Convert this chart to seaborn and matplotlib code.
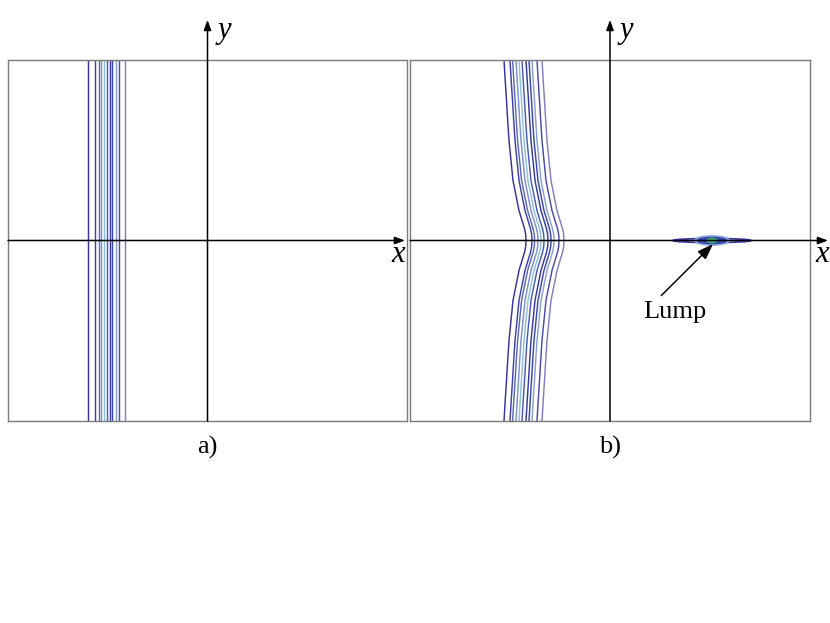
import numpy as np
import pandas as pd
import matplotlib
matplotlib.use("Agg")
import matplotlib.pyplot as plt
import matplotlib.transforms as mtransforms
from matplotlib.patches import Ellipse
import seaborn as sns

sns.set_style("white")
plt.rcParams['font.family'] = ['Liberation Serif', 'DejaVu Serif']
plt.rcParams['text.color'] = 'black'

# contour line positions (x at the top edge of the box)
left_offsets = [-5.99, -5.66, -5.46, -5.34, -5.21, -5.04, -4.91, -4.79, -4.59, -4.44, -4.16]
right_offsets = [-5.30, -5.00, -4.87, -4.70, -4.55, -4.40, -4.20, -4.05, -3.90, -3.65, -3.40]
line_colors = ['#34349c', '#4040a8', '#5a6ab8', '#7d8fcc', '#8fc0d8', '#4a5ab5',
               '#3838a0', '#3a48a8', '#8aa0d0', '#4a4aa8', '#8080c0']

# bend of the kink soliton in panel b: distance from x-axis -> sideways shift
bend_y = [10.0, 8.87, 7.76, 6.65, 5.54, 4.43, 3.32, 2.49, 1.66, 1.11, 0.66, 0.33, 0.0]
bend_dx = [0.0, 0.06, 0.125, 0.185, 0.25, 0.35, 0.45, 0.6, 0.75, 0.9, 1.025, 1.085, 1.1]

# lump: centre and nested level curves (width, height, colour, filled)
lump_x, lump_y = 5.1, 0.0
lump_w = [3.9, 1.7, 1.4, 0.5]
lump_h = [0.22, 0.5, 0.32, 0.2]
lump_c = ['#3a3aa0', '#8fa8dc', '#3545ad', '#3fae6a']
lump_fill = [False, False, True, True]

# long-form tables for seaborn
rows_a = []
for i, x0 in enumerate(left_offsets):
    for y in [-10, 10]:
        rows_a.append({'line': i, 'x': x0, 'y': y})
df_a = pd.DataFrame(rows_a)

rows_b = []
for i, x0 in enumerate(right_offsets):
    for yy, dx in zip(bend_y, bend_dx):
        rows_b.append({'line': i, 'x': x0 + dx, 'y': yy})
        if yy != 0:
            rows_b.append({'line': i, 'x': x0 + dx, 'y': -yy})
df_b = pd.DataFrame(rows_b)

fig = plt.figure(figsize=(8.3, 6.23), dpi=100)
ax_a = fig.add_axes([8 / 830, 1 - 421 / 623, 399 / 830, 361 / 623])
ax_b = fig.add_axes([410 / 830, 1 - 421 / 623, 400 / 830, 361 / 623])

for ax, df in [(ax_a, df_a), (ax_b, df_b)]:
    sns.lineplot(data=df, x='x', y='y', hue='line', palette=line_colors,
                 orient='y', estimator=None, legend=False, lw=1.05, ax=ax)

for w, h, c, f in zip(lump_w, lump_h, lump_c, lump_fill):
    ax_b.add_patch(Ellipse((lump_x, lump_y), w, h, fill=f, fc=c, ec=c, lw=1.3, zorder=3))

arrow = dict(arrowstyle='-|>,head_length=0.6,head_width=0.22', color='black', lw=1.1,
             shrinkA=0, shrinkB=0)
for ax, xend in [(ax_a, 0.995), (ax_b, 1.045)]:
    ax.set_xlim(-10, 10)
    ax.set_ylim(-10, 10)
    ax.set_xticks([])
    ax.set_yticks([])
    ax.set_xlabel('')
    ax.set_ylabel('')
    for s in ax.spines.values():
        s.set_color('#7a7a7a')
        s.set_linewidth(1.0)
    tx = mtransforms.blended_transform_factory(ax.transAxes, ax.transData)
    ty = mtransforms.blended_transform_factory(ax.transData, ax.transAxes)
    ax.annotate('', xy=(xend, 0), xytext=(0, 0), xycoords=tx, textcoords=tx,
                arrowprops=arrow, annotation_clip=False, zorder=5)
    ax.annotate('', xy=(0, 1.111), xytext=(0, 0), xycoords=ty, textcoords=ty,
                arrowprops=arrow, annotation_clip=False, zorder=5)
    ax.text(0.5, 1.083, 'y', transform=ty, fontsize=22, style='italic',
            ha='left', va='center', clip_on=False)
    ax.text(0.977 if ax is ax_a else 1.03, -0.8, 'x', transform=tx, fontsize=22,
            style='italic', ha='center', va='center', clip_on=False)

ax_b.annotate('Lump', xy=(5.15, -0.2), xytext=(3.25, -3.95), fontsize=19,
              ha='center', va='center',
              arrowprops=dict(arrowstyle='-|>,head_length=0.5,head_width=0.18',
                              color='black', lw=1.1, relpos=(0.2, 1.0), shrinkA=2, shrinkB=0))

fig.text(207 / 830, 1 - 447 / 623, 'a)', fontsize=19, ha='center', va='center')
fig.text(610 / 830, 1 - 447 / 623, 'b)', fontsize=19, ha='center', va='center')

fig.savefig('out.png', dpi=100, facecolor='white')
